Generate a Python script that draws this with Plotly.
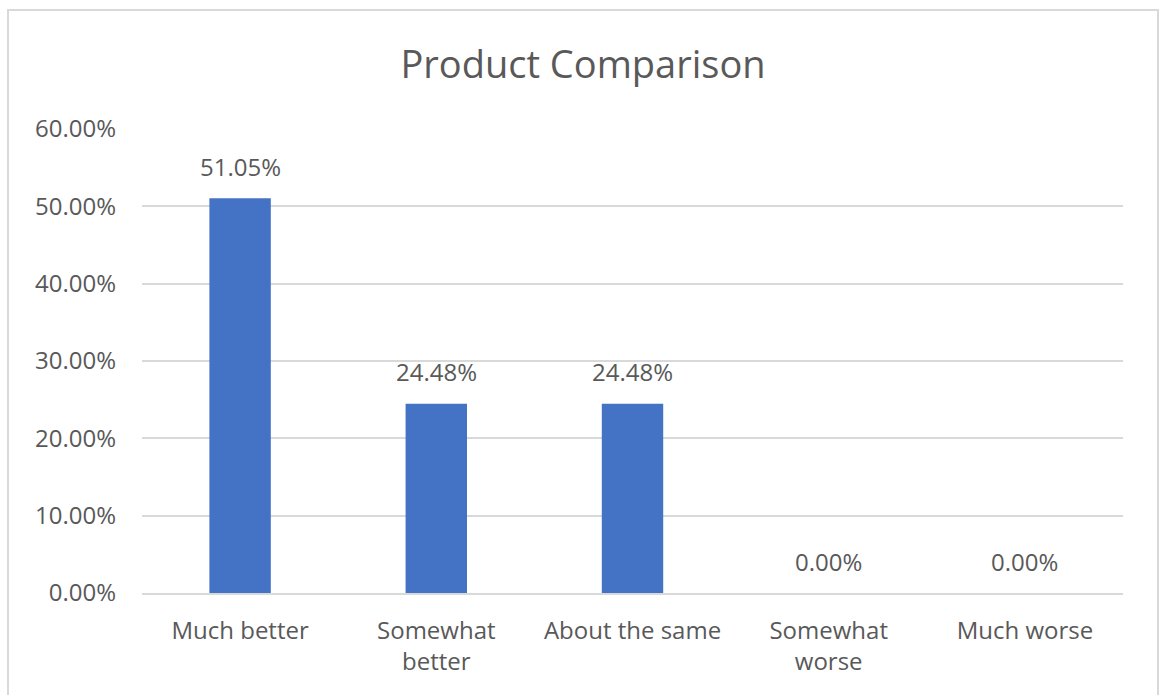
import plotly.graph_objects as go

categories = ["Much better", "Somewhat<br>better", "About the same", "Somewhat<br>worse", "Much worse"]
values = [0.5105, 0.2448, 0.2448, 0.0, 0.0]
tick_vals = [0, 0.1, 0.2, 0.3, 0.4, 0.5, 0.6]
title_text = "Product Comparison"

FONT = "Open Sans"
GRAY = "#595959"
FS = 24

fig = go.Figure()
fig.add_trace(go.Bar(
    x=categories, y=values,
    marker=dict(color="#4472C4", line=dict(width=0)),
    width=0.313,
    hoverinfo="skip",
))

for c, v in zip(categories, values):
    fig.add_annotation(x=c, y=v, text=f"{v*100:.2f}%", showarrow=False,
                       yshift=32, font=dict(family=FONT, size=FS, color=GRAY))

L, R, T, B = 142, 36, 129, 102
W, H = 1159, 695
pw = W - L - R
ph = H - T - B

def px_x(p):
    return (p - L) / pw

def px_y(p):
    return (H - B - p) / ph

fig.add_shape(type="rect", xref="paper", yref="paper",
              x0=px_x(8), x1=px_x(1158), y0=px_y(720), y1=px_y(10),
              line=dict(color="#D9D9D9", width=2), fillcolor="rgba(0,0,0,0)", layer="below")

fig.update_layout(
    width=W, height=H,
    margin=dict(l=L, r=R, t=T, b=B, pad=0),
    paper_bgcolor="white", plot_bgcolor="white",
    showlegend=False,
    title=dict(text=title_text, x=583 / W, xref="container", xanchor="center",
               y=1 - 65 / H, yref="container", yanchor="middle",
               font=dict(family=FONT, size=38, color=GRAY)),
    font=dict(family=FONT, size=FS, color=GRAY),
    bargap=0.687,
)
fig.update_yaxes(range=[0, 0.6], tickvals=tick_vals, tickformat=".2%",
                 showgrid=True, gridcolor="#D9D9D9", gridwidth=2,
                 zeroline=False, showline=False, ticks="",
                 ticklabelstandoff=25, tickfont=dict(family=FONT, size=FS, color=GRAY),
                 fixedrange=True)
fig.update_xaxes(showgrid=False, zeroline=False, showline=True, linecolor="#D9D9D9", linewidth=2,
                 ticks="", ticklabelstandoff=15,
                 tickfont=dict(family=FONT, size=FS, color=GRAY), fixedrange=True)

fig.write_html("out.html", config={"displayModeBar": False})
